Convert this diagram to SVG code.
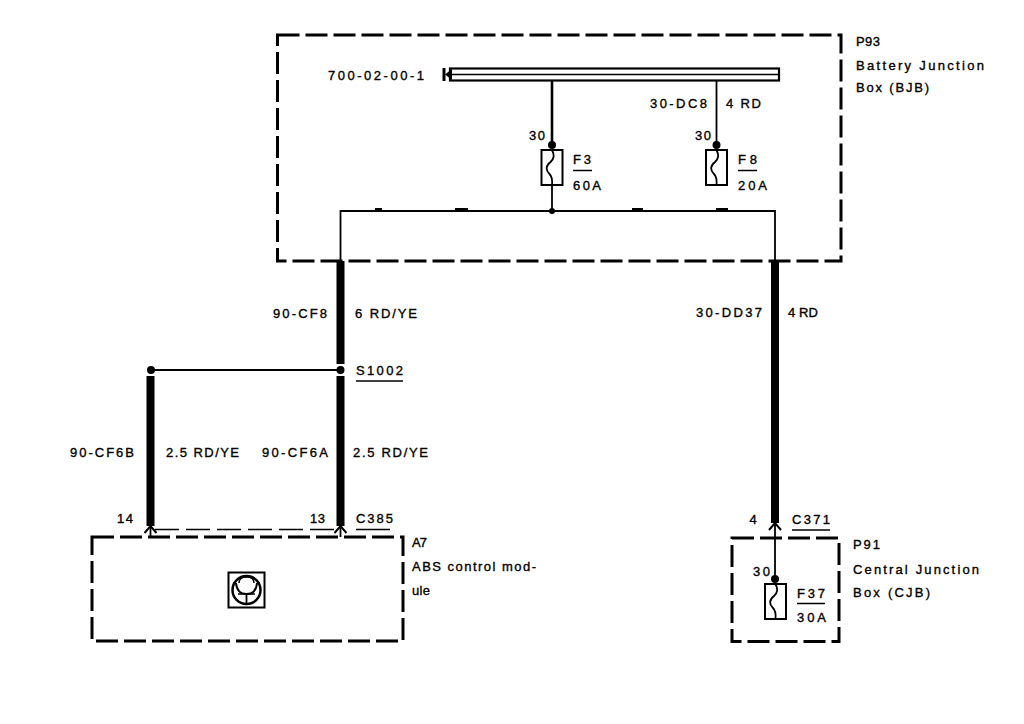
<svg xmlns="http://www.w3.org/2000/svg" width="1024" height="724" viewBox="0 0 1024 724">
<style>
.box{fill:none;stroke:#000;stroke-width:3;stroke-dasharray:22 6}
.t{font-family:"Liberation Sans",Arial,sans-serif;font-size:13px;fill:#000;stroke:#000;stroke-width:0.35}
.w1{stroke:#000;stroke-width:1.8;fill:none}
.w2{stroke:#000;stroke-width:2.6;fill:none}
.thick{stroke:#000;stroke-width:8;fill:none}
.ul{stroke:#000;stroke-width:1.5}
.dot{fill:#000}
</style>
<defs>
<g id="fuse">
<rect x="0" y="0" width="21" height="35" fill="#fff" stroke="#000" stroke-width="2"/>
<path d="M10.5,0 C13,5 13,8 9,12 C4,16 4,20 8,24 C11,27 11,30 10.5,35" fill="none" stroke="#000" stroke-width="1.8"/>
</g>
<path id="pin" d="M-6,7 L0,0 L6,7" fill="none" stroke="#000" stroke-width="2"/>
</defs>
<rect width="1024" height="724" fill="#fff"/>

<g id="connectors">
<line class="w2" x1="552" y1="80" x2="552" y2="145"/>
<line class="w1" x1="552" y1="185" x2="552" y2="211"/>
<line class="w1" x1="716.5" y1="80" x2="716.5" y2="145"/>
<polyline class="w1" points="340.5,261 340.5,211 775,211 775,261"/>
<line class="thick" x1="340.5" y1="261" x2="340.5" y2="364"/>
<line class="thick" x1="340.5" y1="376" x2="340.5" y2="526"/>
<line class="thick" x1="150.5" y1="376" x2="150.5" y2="526"/>
<line class="thick" x1="775" y1="261" x2="775" y2="523"/>
<line class="w1" x1="151" y1="370" x2="340.5" y2="370"/>
<line class="w1" x1="150.5" y1="526" x2="150.5" y2="537"/>
<line class="w1" x1="340.5" y1="526" x2="340.5" y2="537"/>
<line class="w1" x1="775" y1="523" x2="775" y2="579"/>
<use href="#pin" x="150.5" y="526"/>
<use href="#pin" x="340.5" y="526"/>
<use href="#pin" x="775" y="523"/>
<line x1="155" y1="529.5" x2="336" y2="529.5" stroke="#000" stroke-width="1.3" stroke-dasharray="24 7"/>
<circle class="dot" cx="552" cy="211" r="3"/>
<g stroke="#000" stroke-width="2">
<line x1="375" y1="209" x2="382" y2="209"/>
<line x1="455" y1="209" x2="468" y2="209"/>
<line x1="632" y1="209" x2="643" y2="209"/>
<line x1="716" y1="209" x2="728" y2="209"/>
</g>
</g>

<g id="bjb">
<rect class="box" x="277.5" y="35" width="563.5" height="226"/>
<text class="t" x="328" y="80" textLength="96">700-02-00-1</text>
<path d="M444,68 L444,81" stroke="#000" stroke-width="3"/>
<polygon points="445,74.5 452,69 452,80" fill="#000"/>
<rect x="450" y="68.5" width="329" height="12" fill="none" stroke="#000" stroke-width="2.2"/>
<line x1="450" y1="74.5" x2="779" y2="74.5" stroke="#000" stroke-width="1.5"/>
<circle class="dot" cx="552" cy="145" r="4"/>
<circle class="dot" cx="716.5" cy="145" r="4"/>
<use href="#fuse" x="541.5" y="150"/>
<use href="#fuse" x="706" y="150"/>
<text class="t" x="529" y="140" textLength="16">30</text>
<text class="t" x="695" y="140" textLength="16">30</text>
<text class="t" x="573" y="164" textLength="18">F3</text>
<line class="ul" x1="573" y1="170.5" x2="592" y2="170.5"/>
<text class="t" x="573" y="190" textLength="28">60A</text>
<text class="t" x="738" y="164" textLength="19">F8</text>
<line class="ul" x1="738" y1="170.5" x2="757" y2="170.5"/>
<text class="t" x="738" y="190" textLength="29">20A</text>
<text class="t" x="650" y="108" textLength="57">30-DC8</text>
<text class="t" x="726" y="108" textLength="35">4 RD</text>
<text class="t" x="856" y="46" textLength="24">P93</text>
<text class="t" x="856" y="69.5" textLength="128">Battery Junction</text>
<text class="t" x="856" y="91.5" textLength="73">Box (BJB)</text>
</g>

<g id="wire-labels">
<text class="t" x="273" y="318" textLength="54">90-CF8</text>
<text class="t" x="355" y="318" textLength="62">6 RD/YE</text>
<text class="t" x="696" y="317" textLength="66">30-DD37</text>
<text class="t" x="788" y="317" textLength="30">4 RD</text>
<text class="t" x="70" y="456.5" textLength="64">90-CF6B</text>
<text class="t" x="166" y="456.5" textLength="73">2.5 RD/YE</text>
<text class="t" x="262" y="456.5" textLength="66">90-CF6A</text>
<text class="t" x="353" y="456.5" textLength="75">2.5 RD/YE</text>
</g>

<g id="s1002">
<circle class="dot" cx="340.5" cy="370" r="4"/>
<circle class="dot" cx="151" cy="370" r="4"/>
<text class="t" x="356" y="375" textLength="47">S1002</text>
<line class="ul" x1="356" y1="381" x2="403" y2="381"/>
</g>

<g id="a7">
<rect class="box" x="92" y="537" width="311" height="104"/>
<text class="t" x="117" y="522.5" textLength="16">14</text>
<text class="t" x="310" y="522.5" textLength="15">13</text>
<text class="t" x="356" y="522.5" textLength="37">C385</text>
<line class="ul" x1="356" y1="529.5" x2="390" y2="529.5"/>
<rect x="228.5" y="572.5" width="36" height="35" fill="none" stroke="#000" stroke-width="2"/>
<circle cx="246.5" cy="590" r="14" fill="none" stroke="#000" stroke-width="2.5"/>
<path d="M239,583 Q239,577 246.5,577 Q254,577 254,583" fill="none" stroke="#000" stroke-width="1.5"/>
<path d="M236,583 Q237,594 246.5,594 Q256,594 257,583" fill="none" stroke="#000" stroke-width="2"/>
<line x1="246.5" y1="594" x2="246.5" y2="604" stroke="#000" stroke-width="1.8"/>
<line x1="238" y1="594" x2="255" y2="594" stroke="#000" stroke-width="1.5"/>
<text class="t" x="412" y="546.5" textLength="15">A7</text>
<text class="t" x="412" y="570.5" textLength="124">ABS control mod-</text>
<text class="t" x="412" y="595" textLength="18">ule</text>
</g>

<g id="p91">
<rect class="box" x="732" y="538" width="107" height="103.5"/>
<text class="t" x="749.5" y="523.5" textLength="7">4</text>
<text class="t" x="792" y="523.5" textLength="38">C371</text>
<line class="ul" x1="792" y1="530" x2="830" y2="530"/>
<circle class="dot" cx="775" cy="579" r="4"/>
<use href="#fuse" x="765" y="584"/>
<text class="t" x="753" y="576" textLength="17">30</text>
<text class="t" x="797" y="597.5" textLength="28">F37</text>
<line class="ul" x1="797" y1="603.5" x2="825" y2="603.5"/>
<text class="t" x="797" y="621.5" textLength="29">30A</text>
<text class="t" x="853" y="548.5" textLength="27">P91</text>
<text class="t" x="853" y="574" textLength="126">Central Junction</text>
<text class="t" x="853" y="597" textLength="77">Box (CJB)</text>
</g>
</svg>
